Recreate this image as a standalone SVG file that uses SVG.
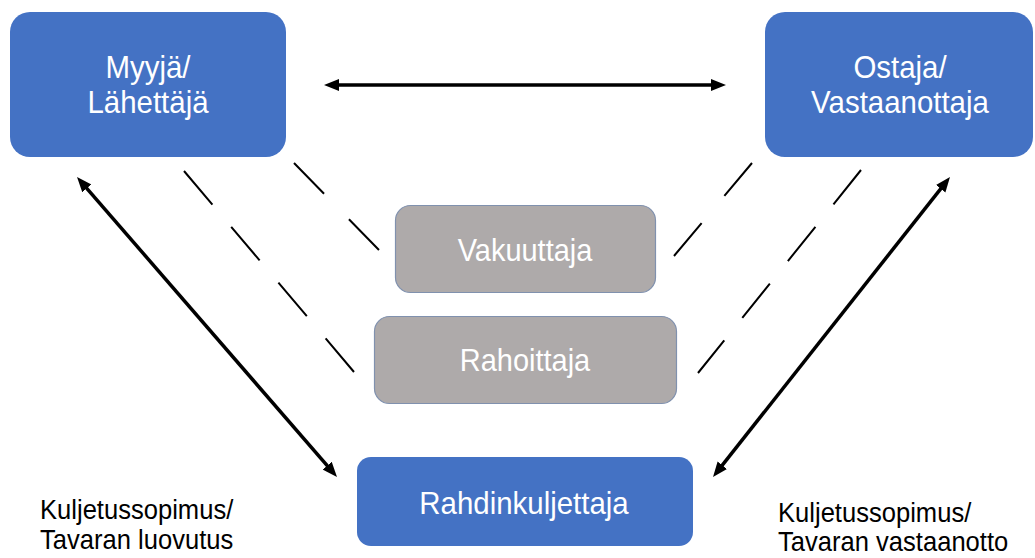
<svg xmlns="http://www.w3.org/2000/svg" width="1035" height="558" viewBox="0 0 1035 558">
<style>
.blue{fill:#4472C4;}
.gray{fill:#AEAAAA;stroke:#8091AE;stroke-width:1.2;}
.lbl{font-family:"Liberation Sans",Arial,sans-serif;fill:#FFFFFF;text-anchor:middle;}
.big{font-size:32px;}
.mid{font-size:31.5px;}
.note{font-family:"Liberation Sans",Arial,sans-serif;font-size:27.5px;fill:#000000;}
.arrow{stroke:#000;stroke-width:3.5;fill:none;marker-start:url(#ah);marker-end:url(#ah);}
.dash{stroke:#000;stroke-width:2;fill:none;}
</style>
<defs>
<marker id="ah" markerUnits="userSpaceOnUse" markerWidth="15" markerHeight="13" viewBox="0 0 15 13" refX="6" refY="6.5" orient="auto-start-reverse">
<path d="M0,0.5 L15,6.5 L0,12.5 z" fill="#000"/>
</marker>
</defs>
<rect width="1035" height="558" fill="#FFFFFF"/>
<g id="connectors">
<line class="arrow" x1="333" y1="85" x2="717" y2="85"/>
<line class="arrow" x1="82.9" y1="183.8" x2="331.1" y2="470.2"/>
<line class="arrow" x1="944.4" y1="184.1" x2="718.6" y2="469.9"/>
<line class="dash" x1="184" y1="171" x2="354" y2="372" stroke-dasharray="44 29.1"/>
<line class="dash" x1="294" y1="163" x2="379" y2="250" stroke-dasharray="43 35.6"/>
<line class="dash" x1="752" y1="163" x2="674" y2="256" stroke-dasharray="43 35.4"/>
<line class="dash" x1="861" y1="170" x2="698" y2="373" stroke-dasharray="44 28.8"/>
</g>
<g id="myyja">
<rect class="blue" x="10" y="12" width="276" height="145" rx="20"/>
<text class="lbl big" transform="translate(148,78) scale(0.92,1)">Myyjä/</text>
<text class="lbl big" transform="translate(148,113) scale(0.92,1)">Lähettäjä</text>
</g>
<g id="ostaja">
<rect class="blue" x="765" y="12" width="268" height="145" rx="20"/>
<text class="lbl big" transform="translate(900,78) scale(0.92,1)">Ostaja/</text>
<text class="lbl big" transform="translate(900,113) scale(0.92,1)">Vastaanottaja</text>
</g>
<g id="vakuuttaja">
<rect class="gray" x="395.5" y="205.5" width="260" height="87" rx="15"/>
<text class="lbl mid" transform="translate(525,261) scale(0.92,1)">Vakuuttaja</text>
</g>
<g id="rahoittaja">
<rect class="gray" x="374.5" y="316.5" width="302" height="87" rx="15"/>
<text class="lbl mid" transform="translate(525,371) scale(0.92,1)">Rahoittaja</text>
</g>
<g id="rahdinkuljettaja">
<rect class="blue" x="357" y="457" width="336" height="89" rx="14"/>
<text class="lbl big" transform="translate(524,514) scale(0.92,1)">Rahdinkuljettaja</text>
</g>
<g id="note-left">
<text class="note" transform="translate(40,519) scale(0.93,1)">Kuljetussopimus/</text>
<text class="note" transform="translate(40,549) scale(0.93,1)">Tavaran luovutus</text>
</g>
<g id="note-right">
<text class="note" transform="translate(778,522) scale(0.93,1)">Kuljetussopimus/</text>
<text class="note" transform="translate(778,551) scale(0.93,1)">Tavaran vastaanotto</text>
</g>
</svg>
